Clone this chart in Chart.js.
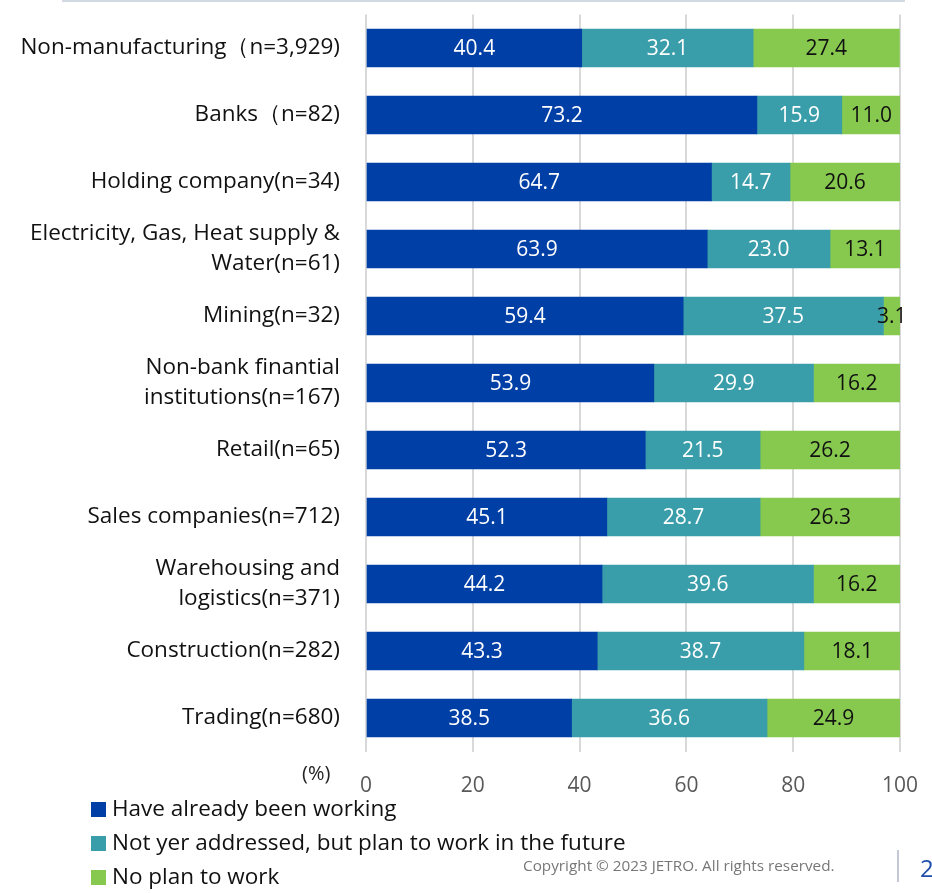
<!DOCTYPE html>
<html>
<head>
<meta charset="utf-8">
<script src="https://cdn.jsdelivr.net/npm/chart.js@4/dist/chart.umd.min.js"></script>
<style>
  html, body { margin: 0; padding: 0; background: #fff; }
  body { width: 932px; height: 893px; position: relative; overflow: hidden; font-family: "Open Sans", "Noto Sans", sans-serif; }
  #wrap { position: absolute; left: 0; top: 0; width: 932px; height: 893px; }
  .topline { position: absolute; left: 62px; top: 0; width: 843px; height: 2px; background: #d3d9e3; }
  .unit { position: absolute; left: 302px; top: 759px; font-size: 20px; color: #222; }
  .legend { position: absolute; left: 91px; top: 791px; font-size: 22.5px; color: #111; }
  .legend div { height: 34px; line-height: 34px; white-space: nowrap; }
  .legend span { display: inline-block; width: 15px; height: 15px; margin-right: 6px; vertical-align: -1px; }
  .copy { position: absolute; left: 523px; top: 855px; font-size: 15.3px; color: #777; }
  .vline { position: absolute; left: 897px; top: 850px; width: 2px; height: 32px; background: #c3cad6; }
  .page { position: absolute; left: 920px; top: 851px; font-size: 24px; color: #1f4fa8; }
</style>
</head>
<body>
<div id="wrap"><canvas id="chart" width="932" height="893"></canvas></div>
<div class="topline"></div>
<div class="unit">(%)</div>
<div class="legend" id="legend"></div>
<div class="copy">Copyright © 2023 JETRO. All rights reserved.</div>
<div class="vline"></div>
<div class="page">2</div>
<script>
// categories (top to bottom)
const categories = [
    'Non-manufacturing（n=3,929)',
    'Banks（n=82)',
    'Holding company(n=34)',
    ['Electricity, Gas, Heat supply &', 'Water(n=61)'],
    'Mining(n=32)',
    ['Non-bank finantial', 'institutions(n=167)'],
    'Retail(n=65)',
    'Sales companies(n=712)',
    ['Warehousing and', 'logistics(n=371)'],
    'Construction(n=282)',
    'Trading(n=680)'
];

// series values (%)
const working = [40.4, 73.2, 64.7, 63.9, 59.4, 53.9, 52.3, 45.1, 44.2, 43.3, 38.5];
const planFuture = [32.1, 15.9, 14.7, 23.0, 37.5, 29.9, 21.5, 28.7, 39.6, 38.7, 36.6];
const noPlan = [27.4, 11.0, 20.6, 13.1, 3.1, 16.2, 26.2, 26.3, 16.2, 18.1, 24.9];

const seriesNames = [
    'Have already been working',
    'Not yer addressed, but plan to work in the future',
    'No plan to work'
];
const xTicks = [0, 20, 40, 60, 80, 100];

const colors = ['#003fa6', '#3a9eaa', '#87c94f'];
const labelColors = ['#ffffff', '#ffffff', '#111111'];
const fontFamily = '"Open Sans", "Noto Sans", sans-serif';

// draw value labels in the middle of every segment
const valueLabels = {
    id: 'valueLabels',
    afterDatasetsDraw(chart) {
        const ctx = chart.ctx;
        ctx.save();
        ctx.font = '21px ' + fontFamily;
        ctx.textAlign = 'center';
        ctx.textBaseline = 'middle';
        chart.data.datasets.forEach((ds, i) => {
            const meta = chart.getDatasetMeta(i);
            meta.data.forEach((bar, j) => {
                const p = bar.getCenterPoint();
                ctx.fillStyle = labelColors[i];
                ctx.fillText(ds.data[j].toFixed(1), p.x, p.y + 1);
            });
        });
        ctx.restore();
    }
};

const ctx = document.getElementById('chart').getContext('2d');
new Chart(ctx, {
    type: 'bar',
    data: {
        labels: categories,
        datasets: [working, planFuture, noPlan].map((d, i) => ({
            label: seriesNames[i],
            data: d,
            backgroundColor: colors[i],
            borderWidth: 0,
            barThickness: 38
        }))
    },
    options: {
        indexAxis: 'y',
        responsive: false,
        animation: false,
        devicePixelRatio: 1,
        layout: { padding: { left: 0, right: 32, top: 14.5, bottom: 91.5 } },
        plugins: {
            legend: { display: false },
            tooltip: { enabled: false }
        },
        scales: {
            x: {
                stacked: true,
                min: 0,
                max: 100,
                afterBuildTicks: (scale) => { scale.ticks = xTicks.map(v => ({ value: v })); },
                afterFit: (scale) => {
                    scale.height = 50;
                    scale.paddingLeft = 0;
                    scale.paddingRight = 0;
                },
                grid: { color: '#d9d9d9', lineWidth: 2, drawTicks: false },
                border: { display: false },
                ticks: { color: '#595959', font: { size: 21, family: fontFamily }, padding: 22 }
            },
            y: {
                stacked: true,
                afterFit: (scale) => {
                    scale.width = 366;
                    scale.paddingTop = 0;
                    scale.paddingBottom = 0;
                },
                grid: { display: false, drawTicks: false },
                border: { display: false },
                ticks: { color: '#111', font: { size: 22.5, family: fontFamily, lineHeight: 1.33 }, padding: 26 }
            }
        }
    },
    plugins: [valueLabels]
});

// legend
const legend = document.getElementById('legend');
seriesNames.forEach((name, i) => {
    const row = document.createElement('div');
    row.innerHTML = '<span style="background:' + colors[i] + '"></span>' + name;
    legend.appendChild(row);
});
</script>
</body>
</html>
